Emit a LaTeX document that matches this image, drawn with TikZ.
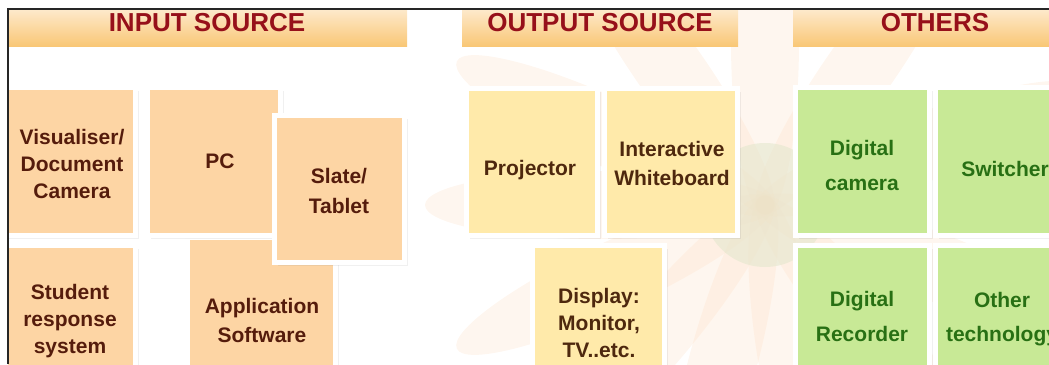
\documentclass[tikz,border=0pt]{standalone}
\usepackage{fontspec}
\setmainfont{Liberation Sans}
\usepackage{tikz}
\usetikzlibrary{shadows}

\definecolor{inorange}{RGB}{253,213,164}
\definecolor{outyellow}{RGB}{255,234,170}
\definecolor{othgreen}{RGB}{200,233,150}
\definecolor{intext}{RGB}{85,28,12}
\definecolor{outtext}{RGB}{78,40,14}
\definecolor{othtext}{RGB}{40,112,20}
\definecolor{headred}{RGB}{150,16,26}
\definecolor{barlight}{RGB}{255,244,230}
\definecolor{barorange}{RGB}{249,199,118}
\definecolor{petal}{RGB}{252,222,196}
\definecolor{seed}{RGB}{226,230,204}

\begin{document}
\begin{tikzpicture}[x=1pt, y=-1pt,
  box/.style={draw=white, line width=5pt, inner sep=0pt, outer sep=0pt,
    drop shadow={shadow xshift=3.5pt, shadow yshift=-3.5pt, opacity=0.12}},
  inbox/.style={box, fill=inorange},
  outbox/.style={box, fill=outyellow},
  othbox/.style={box, fill=othgreen},
  lbl/.style={font=\fontsize{21}{27}\selectfont\bfseries, align=center, inner sep=0pt},
  inlbl/.style={lbl, text=intext},
  outlbl/.style={lbl, text=outtext},
  othlbl/.style={lbl, text=othtext, font=\fontsize{21}{34.5}\selectfont\bfseries},
  bar/.style={top color=barlight, bottom color=barorange, inner sep=0pt, outer sep=0pt,
    minimum height=48pt},
  head/.style={font=\fontsize{26}{30}\selectfont\bfseries, text=headred, inner sep=0pt}]
  \useasboundingbox (0,0) rectangle (1049,364);
  \begin{scope}
    \clip (8,9) rectangle (1049,364);
    \foreach \a in {0,25,50,75,100,130,160,200,235,270,305,335}
      \fill[petal, fill opacity=0.28, rotate around={\a:(765,205)}] (600,205) ellipse (175 and 34);
    \fill[seed, fill opacity=0.55] (765,205) circle (62);

    \node[bar, minimum width=407pt] (inbar) at (203.5,22) {};
    \node[head] (inhead) at (207,22.5) {INPUT SOURCE};
    \node[bar, minimum width=276pt] (outbar) at (600,22) {};
    \node[head] (outhead) at (600,22.5) {OUTPUT SOURCE};
    \node[bar, minimum width=284pt] (othbar) at (935,22) {};
    \node[head] (othhead) at (935,22.5) {OTHERS};

    \node[inbox, minimum width=133pt, minimum height=148pt] (vis) at (69,161.5) {};
    \node[inbox, minimum width=133pt, minimum height=148pt] (student) at (69,319.5) {};
    \node[inbox, minimum width=148pt, minimum height=165pt] (app) at (261.5,320) {};
    \node[inbox, minimum width=133pt, minimum height=148pt] (pc) at (214,161.5) {};
    \node[inbox, minimum width=130pt, minimum height=147pt] (slate) at (339.5,189) {};
    \node[inlbl] (vis-t) at (72,164) {Visualiser/\\Document\\Camera};
    \node[inlbl] (student-t) at (70,321) {Student\\response\\system};
    \node[inlbl] (app-t) at (262,320) {Application\\[2pt]Software};
    \node[inlbl] (pc-t) at (220,161) {PC};
    \node[inlbl] (slate-t) at (339,191) {Slate/\\[3pt]Tablet};

    \node[outbox, minimum width=131pt, minimum height=147pt] (proj) at (532,162) {};
    \node[outbox, minimum width=133pt, minimum height=147pt] (wb) at (671,162) {};
    \node[outbox, minimum width=132pt, minimum height=152pt] (disp) at (598.5,321.5) {};
    \node[outlbl] (proj-t) at (530,170) {Projector};
    \node[outlbl] (wb-t) at (672,163.5) {Interactive\\[2pt]Whiteboard};
    \node[outlbl] (disp-t) at (599,322.5) {Display:\\Monitor,\\TV..etc.};

    \node[othbox, minimum width=134pt, minimum height=148pt] (dcam) at (862.5,161.5) {};
    \node[othbox, minimum width=135pt, minimum height=148pt] (switch) at (1003,161.5) {};
    \node[othbox, minimum width=134pt, minimum height=147pt] (drec) at (862.5,319) {};
    \node[othbox, minimum width=135pt, minimum height=147pt] (other) at (1003,319) {};
    \node[othlbl] (dcam-t) at (862,165.5) {Digital\\camera};
    \node[othlbl] (switch-t) at (1005,168.5) {Switcher};
    \node[othlbl] (drec-t) at (862,316.5) {Digital\\Recorder};
    \node[othlbl] (other-t) at (1002,319) {Other\\technology};
  \end{scope}
  \draw[black!85, line width=1.2pt] (8,364) -- (8,9) -- (1049,9);
\end{tikzpicture}
\end{document}
